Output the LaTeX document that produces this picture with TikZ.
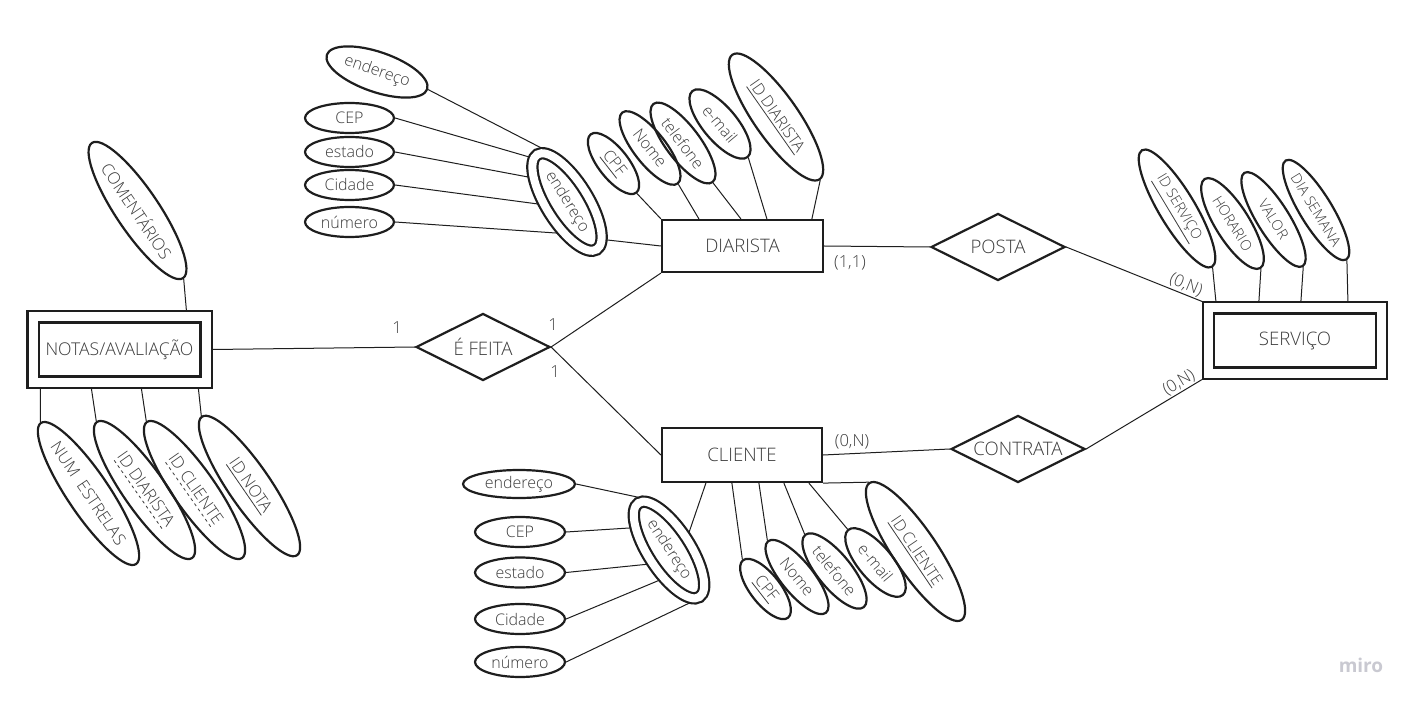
\documentclass[tikz,border=0pt]{standalone}
\usepackage{fontspec}
\setmainfont{Open Sans}[UprightFont={* Light}, BoldFont={* Bold}]
\usetikzlibrary{shapes.geometric}
\definecolor{traco}{HTML}{1E1E1E}
\definecolor{texto}{HTML}{3C3C3C}
\definecolor{marca}{HTML}{C9C9D1}
\newcommand\tracejado[1]{\setbox0\hbox{#1}\rlap{\raisebox{-2.2pt}{\hbox to \wd0{\xleaders\hbox to 3pt{\hss\vrule width 1.5pt height 0.4pt\hss}\hfill}}}\box0}

\begin{document}
\begin{tikzpicture}[x=0.5pt, y=-0.5pt,
                    line width=1.1pt,
                    text=texto]
    \tikzstyle{entidade}=[rectangle, draw=traco, inner sep=0pt, font=\fontsize{9.3}{10}\selectfont]
    \tikzstyle{fraca}=[entidade, double=white, double distance=4.5pt, outer sep=3.3pt, minimum width=86.5pt, minimum height=32.5pt]
    \tikzstyle{relacao}=[diamond, draw=traco, aspect=2, inner sep=0pt, minimum width=67pt, minimum height=33.5pt, font=\fontsize{9.3}{10}\selectfont]
    \tikzstyle{atributo}=[ellipse, draw=traco, inner sep=0pt, font=\fontsize{8}{9}\selectfont]
    \tikzstyle{composto}=[atributo, double=white, double distance=4pt, outer sep=2.6pt, minimum width=56pt, minimum height=21pt]
    \tikzstyle{atribserv}=[atributo, font=\fontsize{7.2}{8}\selectfont]
    \tikzstyle{atribnota}=[atributo, font=\fontsize{8.3}{9}\selectfont, minimum width=83pt, minimum height=21pt]
    \tikzstyle{card}=[inner sep=0pt, font=\fontsize{8.3}{9}\selectfont]
    \tikzstyle{liga}=[draw=traco, line width=0.5pt]

    \fill[white] (0,0) rectangle (1417,705);

    % entidades e relacoes
    \node[entidade, minimum width=80.5pt, minimum height=26pt] (diarista) at (742.5,246) {DIARISTA};
    \node[entidade, minimum width=80pt, minimum height=27pt] (cliente) at (742,455) {CLIENTE};
    \node[fraca] (serv) at (1295,340.5) {SERVIÇO};
    \node[fraca, font=\fontsize{8.8}{10}\selectfont] (notas) at (119.5,349.5) {NOTAS/AVALIAÇÃO};
    \node[relacao] (posta) at (998,247) {POSTA};
    \node[relacao] (contrata) at (1018,449) {CONTRATA};
    \node[relacao] (feita) at (483,347) {É FEITA};

    % atributos de diarista
    \node[atributo, minimum width=53pt, minimum height=20pt, rotate=-19] (endTopD) at (377,72) {endereço};
    \node[atributo, minimum width=44.5pt, minimum height=15pt] (cepD) at (349.5,118) {CEP};
    \node[atributo, minimum width=44.5pt, minimum height=15pt] (estadoD) at (349.5,152) {estado};
    \node[atributo, minimum width=44.5pt, minimum height=15pt] (cidadeD) at (349.5,185) {Cidade};
    \node[atributo, minimum width=44.5pt, minimum height=15pt] (numeroD) at (349.5,222) {número};
    \node[composto, rotate=-58] (endD) at (567,202) {endereço};
    \node[atributo, minimum width=37pt, minimum height=15pt, rotate=-52] (cpfD) at (613.5,163.5) {\underline{CPF}};
    \node[atributo, minimum width=45pt, minimum height=16pt, rotate=-52] (nomeD) at (650,148) {Nome};
    \node[atributo, minimum width=49pt, minimum height=17pt, rotate=-53] (telD) at (683,143) {telefone};
    \node[atributo, minimum width=43pt, minimum height=17pt, rotate=-50] (emailD) at (720,124) {e-mail};
    \node[atributo, minimum width=76pt, minimum height=22pt, rotate=-55] (idD) at (776,117) {\underline{ID DIARISTA}};

    % atributos de cliente
    \node[atributo, minimum width=56pt, minimum height=14pt] (endTopC) at (519,484) {endereço};
    \node[atributo, minimum width=45pt, minimum height=15pt] (cepC) at (520,532) {CEP};
    \node[atributo, minimum width=45pt, minimum height=15pt] (estadoC) at (520,572.5) {estado};
    \node[atributo, minimum width=45pt, minimum height=15pt] (cidadeC) at (520,619) {Cidade};
    \node[atributo, minimum width=45pt, minimum height=15pt] (numeroC) at (520,662) {número};
    \node[composto, rotate=-57] (endC) at (669,550) {endereço};
    \node[atributo, minimum width=36.5pt, minimum height=15pt, rotate=-52] (cpfC) at (765.5,589) {\underline{CPF}};
    \node[atributo, minimum width=46pt, minimum height=16pt, rotate=-51] (nomeC) at (797,577) {Nome};
    \node[atributo, minimum width=46.5pt, minimum height=17pt, rotate=-51] (telC) at (834.5,571) {telefone};
    \node[atributo, minimum width=42.5pt, minimum height=17pt, rotate=-50] (emailC) at (875.5,562.5) {e-mail};
    \node[atributo, minimum width=82.5pt, minimum height=22pt, rotate=-56] (idC) at (915.5,551.5) {\underline{ID CLIENTE}};

    % atributos de servico
    \node[atribserv, minimum width=68pt, minimum height=18pt, rotate=-59] (idS) at (1177,208.5) {\underline{ID SERVIÇO}};
    \node[atribserv, minimum width=52.5pt, minimum height=17pt, rotate=-58] (horS) at (1232.5,223.5) {HORARIO};
    \node[atribserv, minimum width=55pt, minimum height=16pt, rotate=-58] (valS) at (1273.5,219.5) {VALOR};
    \node[atribserv, minimum width=57.5pt, minimum height=16pt, rotate=-58.5] (diaS) at (1316,210) {DIA SEMANA};

    % atributos de notas
    \node[atribnota, minimum width=81.5pt, minimum height=21.5pt, rotate=-56] (comN) at (137.5,210.5) {COMENTÁRIOS};
    \node[atribnota, rotate=-56] (numN) at (88.5,493.5) {NUM~~ESTRELAS};
    \node[atribnota, rotate=-55] (idDN) at (144.5,490) {\tracejado{ID DIARISTA}};
    \node[atribnota, rotate=-55] (idCN) at (194.5,490) {\tracejado{ID CLIENTE}};
    \node[atribnota, minimum width=84pt, rotate=-55.5] (idNN) at (249.5,486) {\underline{ID NOTA}};

    % cardinalidades
    \node[card] (c11) at (850,263) {(1,1)};
    \node[card] (c0nCli) at (852,442) {(0,N)};
    \node[card, rotate=-23] (c0nPosta) at (1186,285) {(0,N)};
    \node[card, rotate=31] (c0nContrata) at (1179,383) {(0,N)};
    \node[card] (um1) at (397,328) {1};
    \node[card] (um2) at (553,325) {1};
    \node[card] (um3) at (555,372) {1};

    \draw[liga] (endTopD.east) -- (endD.173);
    \draw[liga] (cepD.east) -- (endD.188);
    \draw[liga] (estadoD.east) -- (endD.205);
    \draw[liga] (cidadeD.east) -- (endD.242);
    \draw[liga] (numeroD.east) -- (endD.311);
    \draw[liga] (endD.14) -- (diarista.west);
    \draw[liga] (cpfD.east) -- (diarista.north west);
    \draw[liga] (nomeD.east) -- ([xshift=19pt]diarista.north west);
    \draw[liga] (telD.east) -- ([xshift=40pt]diarista.north west);
    \draw[liga] (emailD.east) -- ([xshift=53pt]diarista.north west);
    \draw[liga] (idD.east) -- ([xshift=75.5pt]diarista.north west);

    \draw[liga] (endTopC.east) -- (endC.177);
    \draw[liga] (cepC.east) -- (endC.207);
    \draw[liga] (estadoC.east) -- (endC.270);
    \draw[liga] (cidadeC.east) -- (endC.309);
    \draw[liga] (numeroC.east) -- (endC.349);
    \draw[liga] (endC.98) -- ([xshift=22.5pt]cliente.south west);
    \draw[liga] (cpfC.west) -- ([xshift=35.5pt]cliente.south west);
    \draw[liga] (nomeC.west) -- ([xshift=49pt]cliente.south west);
    \draw[liga] (telC.west) -- ([xshift=61.5pt]cliente.south west);
    \draw[liga] (emailC.west) -- ([xshift=74pt]cliente.south west);
    \draw[liga] (idC.west) -- (cliente.south east);

    \draw[liga] (idS.east) -- ([xshift=7pt]serv.north west);
    \draw[liga] (horS.east) -- ([xshift=28.5pt]serv.north west);
    \draw[liga] (valS.east) -- ([xshift=49.5pt]serv.north west);
    \draw[liga] (diaS.east) -- ([xshift=73pt]serv.north west);

    \draw[liga] (comN.east) -- ([xshift=80pt]notas.north west);
    \draw[liga] (numN.west) -- ([xshift=7pt]notas.south west);
    \draw[liga] (idDN.west) -- ([xshift=32.5pt]notas.south west);
    \draw[liga] (idCN.west) -- ([xshift=57.5pt]notas.south west);
    \draw[liga] (idNN.west) -- ([xshift=86pt]notas.south west);

    \draw[liga] (notas.east) -- (feita.west);
    \draw[liga] (feita.east) -- (diarista.south west);
    \draw[liga] (feita.east) -- (cliente.west);
    \draw[liga] (diarista.east) -- (posta.west);
    \draw[liga] (posta.east) -- (serv.north west);
    \draw[liga] (cliente.east) -- (contrata.west);
    \draw[liga] (contrata.east) -- (serv.south west);

    \node[font=\bfseries\fontsize{9.5}{10}\selectfont, text=marca] (miro) at (1361,665) {miro};
\end{tikzpicture}
\end{document}
